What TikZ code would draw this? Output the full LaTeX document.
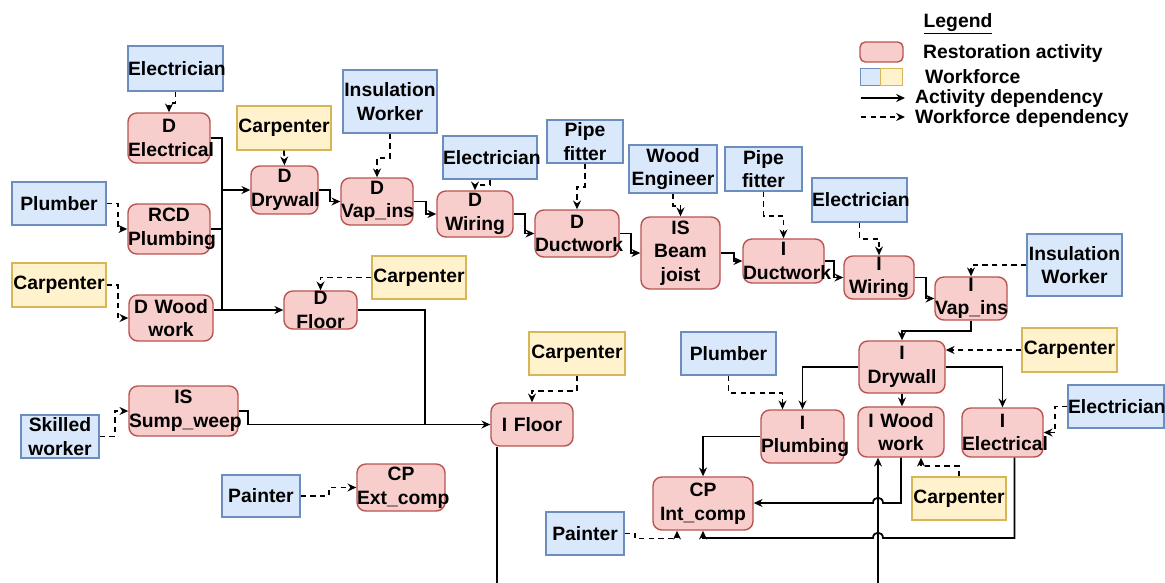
\documentclass[tikz,border=0pt]{standalone}
\usepackage{fontspec}
\setmainfont{Liberation Sans}
\usepackage{xcolor}
\usepackage{tikz}
\usetikzlibrary{arrows.meta,calc}

\definecolor{actfill}{HTML}{F8CECC}
\definecolor{actline}{HTML}{B85450}
\definecolor{bluefill}{HTML}{DAE8FC}
\definecolor{blueline}{HTML}{6C8EBF}
\definecolor{yellowfill}{HTML}{FFF2CC}
\definecolor{yellowline}{HTML}{D6B656}
\newlength{\px}
\setlength{\px}{0.02cm}

\begin{document}
\begin{tikzpicture}[x=\px,y=-\px,
  every node/.style={font=\bfseries\fontsize{11}{13.4}\selectfont},
  act/.style={draw=actline,fill=actfill,line width=0.8pt,rounded corners=5pt,inner sep=0pt,align=center},
  crewb/.style={draw=blueline,fill=bluefill,line width=0.8pt,inner sep=0pt,align=center},
  crewy/.style={draw=yellowline,fill=yellowfill,line width=0.8pt,inner sep=0pt,align=center},
  wh/.style 2 args={text width=#1\px,minimum height=#2\px},
  line/.style={line width=1pt},
  adep/.style={line,-{Stealth[length=5pt,width=4.5pt]}},
  wdep/.style={adep,dash pattern=on 3pt off 2.5pt}]
  \useasboundingbox (0,0) rectangle (1165,582);

  % restoration activities
  \node[act,wh={82}{50}] (delec) at (169,138) {D\\Electrical};
  \node[act,wh={82}{50}] (rcd) at (169,229) {RCD\\Plumbing};
  \node[act,wh={84}{46}] (dwood) at (171,318) {D Wood\\work};
  \node[act,wh={67}{48}] (ddry) at (284.5,190) {D\\Drywall};
  \node[act,wh={72}{47}] (dvap) at (377,201.5) {D\\Vap\_ins};
  \node[act,wh={76}{46}] (dwire) at (475,214) {D\\Wiring};
  \node[act,wh={84}{47}] (dduct) at (577,233.5) {D\\Ductwork};
  \node[act,wh={79}{72}] (beam) at (680.5,253) {IS\\Beam\\joist};
  \node[act,wh={81}{44}] (iduct) at (783.5,261) {I\\Ductwork};
  \node[act,wh={70}{43}] (iwire) at (879,277.5) {I\\Wiring};
  \node[act,wh={72}{43}] (ivap) at (971,298.5) {I\\Vap\_ins};
  \node[act,wh={73}{38}] (dfloor) at (320.5,310) {D\\Floor};
  \node[act,wh={109}{50}] (sump) at (183.5,411) {IS\\Sump\_weep};
  \node[act,wh={82}{43}] (ifloor) at (532,424.5) {I Floor};
  \node[act,wh={88}{47}] (extc) at (401,487.5) {CP\\Ext\_comp};
  \node[act,wh={86}{52}] (idry) at (902,367) {I\\Drywall};
  \node[act,wh={83}{53}] (iplumb) at (802.5,436.5) {I\\Plumbing};
  \node[act,wh={86}{50}] (iwood) at (901,432) {I Wood\\work};
  \node[act,wh={81}{49}] (ielec) at (1002.5,432.5) {I\\Electrical};
  \node[act,wh={100}{53}] (intc) at (703,503.5) {CP\\Int\_comp};

  % workforce
  \node[crewb,wh={95}{45}] (elec1) at (175.5,68.5) {Electrician};
  \node[crewb,wh={94}{43}] (plumb1) at (59,203.5) {Plumber};
  \node[crewy,wh={94}{44}] (carp1) at (59,285) {Carpenter};
  \node[crewy,wh={94}{44}] (carp2) at (284,128) {Carpenter};
  \node[crewb,wh={94}{63}] (insul1) at (390,101.5) {Insulation\\Worker};
  \node[crewb,wh={94}{43}] (elec2) at (490,157.5) {Electrician};
  \node[crewb,wh={76}{43}] (pipe1) at (585,141.5) {Pipe\\fitter};
  \node[crewb,wh={88}{48}] (wood) at (673,169) {Wood\\Engineer};
  \node[crewb,wh={77}{44}] (pipe2) at (763.5,169) {Pipe\\fitter};
  \node[crewb,wh={95}{44}] (elec3) at (859.5,200) {Electrician};
  \node[crewb,wh={95}{62}] (insul2) at (1074.5,265) {Insulation\\Worker};
  \node[crewy,wh={94}{43}] (carpf) at (419,277.5) {Carpenter};
  \node[crewb,wh={78}{43}] (skill) at (60,436.5) {Skilled\\worker};
  \node[crewy,wh={96}{43}] (carp3) at (577,353.5) {Carpenter};
  \node[crewb,wh={78}{42}] (paint1) at (261,496) {Painter};
  \node[crewb,wh={95}{43}] (plumb2) at (728.5,353.5) {Plumber};
  \node[crewy,wh={95}{44}] (carp4) at (1069.5,350) {Carpenter};
  \node[crewb,wh={96}{43}] (elec4) at (1116,406.5) {Electrician};
  \node[crewy,wh={94}{43}] (carp5) at (959,498.5) {Carpenter};
  \node[crewb,wh={78}{43}] (paint2) at (585,533.5) {Painter};

  % activity dependencies
  \coordinate (busx) at (222,0);
  \draw[line] (delec.east) -| (busx |- dfloor);
  \draw[line] (rcd.east) -- (busx |- rcd);
  \draw[adep] (busx |- ddry) -- (ddry.west);
  \draw[adep] (dwood.east |- dfloor) -- (dfloor.west);
  \draw[adep] (ddry.east) -- ++(11,0) |- (dvap.west);
  \draw[adep] (dvap.east) -- ++(12,0) |- (dwire.west);
  \draw[adep] (dwire.east) -- ++(11,0) |- (dduct.west);
  \draw[adep] (dduct.east) -- ++(11,0) |- (beam.west);
  \draw[adep] (beam.east) -- ++(13,0) |- (iduct.west);
  \draw[adep] (iduct.east) -- ++(9,0) |- (iwire.west);
  \draw[adep] (iwire.east) -- ++(11,0) |- (ivap.west);
  \draw[adep] (ivap.south) -- ++(0,10) -| (idry.north);
  \draw[adep] (idry.west) -| (iplumb.north);
  \draw[adep] (idry.south) -- (idry.south |- iwood.north);
  \draw[adep] (idry.east) -| (ielec.north);
  \draw[adep] (iplumb.west) -| (intc.north);
  \draw[adep] (sump.east) -- ++(9,0) |- (ifloor.west);
  \draw[line] (dfloor.east) -| ($(ifloor.west)+(-65,0)$);
  \coordinate (botl) at (497,600);
  \coordinate (botr) at (878,600);
  \draw[adep] (ifloor.south -| botl) -- (botl) -- (botr) -- (iwood.south -| botr);
  \coordinate (hopa) at (878,503);
  \coordinate (hopb) at (878,538);
  \draw[adep] (iwood.south) |- ($(hopa)+(5,0)$) .. controls +(0,-7) and +(0,-7) .. ($(hopa)+(-5,0)$) -- (intc.east |- hopa);
  \draw[adep] ([xshift=12\px]ielec.south) |- ($(hopb)+(5,0)$) .. controls +(0,-7) and +(0,-7) .. ($(hopb)+(-5,0)$) -| (intc.south);

  % workforce dependencies
  \draw[wdep] (elec1.south) -- ++(0,11) -| (delec.north);
  \draw[wdep] (plumb1.east) -- ++(11,0) |- (rcd.west);
  \draw[wdep] (carp1.east) -- ++(11,0) |- (dwood.west);
  \draw[wdep] (carp2.south) -- (ddry.north);
  \draw[wdep] (insul1.south) -- ++(0,24) -| (dvap.north);
  \draw[wdep] (elec2.south) -- ++(0,5) -| (dwire.north);
  \draw[wdep] (pipe1.south) -- ++(0,23) -| (dduct.north);
  \draw[wdep] (wood.south) -- ++(0,12) -| (beam.north);
  \draw[wdep] (pipe2.south) -- ++(0,24) -| (iduct.north);
  \draw[wdep] (elec3.south) -- ++(0,16) -| (iwire.north);
  \draw[wdep] (insul2.west) -| (ivap.north);
  \draw[wdep] (carpf.west) -| (dfloor.north);
  \draw[wdep] (skill.east) -- ++(15,0) |- (sump.west);
  \draw[wdep] (paint1.east) -- ++(28,0) |- (extc.west);
  \draw[wdep] (carp3.south) -- ++(0,15) -| (ifloor.north);
  \draw[wdep] (plumb2.south) -- ++(0,17) -| ([xshift=-20\px]iplumb.north);
  \draw[wdep] (carp4.west) -- (idry.east |- carp4.west);
  \draw[wdep] (elec4.west) -- ++(-12,0) |- (ielec.east);
  \draw[wdep] (carp5.north) -- ++(0,-10) -| ([xshift=20\px]iwood.south);
  \draw[wdep] (paint2.east) -- ++(10,0) -- ++(0,5) -| ([xshift=-26\px]intc.south);

  % legend
  \node (legtitle) at (958,24) {\underline{Legend}};
  \node[act,wh={43}{20},rounded corners=3pt] (legact) at (881.5,52) {};
  \node[anchor=west] (legacttx) at (917,53) {Restoration activity};
  \node[crewb,wh={20}{17}] (legblue) at (870.5,77) {};
  \node[crewy,wh={22}{17}] (legyel) at (891.5,77) {};
  \node[anchor=west] (legcrewtx) at (919,77) {Workforce};
  \coordinate (lega1) at (861,98);
  \coordinate (lega2) at (905,98);
  \draw[adep] (lega1) -- (lega2);
  \node[anchor=west] (legadtx) at (909,98) {Activity dependency};
  \coordinate (legw1) at (861,117);
  \coordinate (legw2) at (905,117);
  \draw[wdep] (legw1) -- (legw2);
  \node[anchor=west] (legwdtx) at (909,118) {Workforce dependency};
\end{tikzpicture}
\end{document}
